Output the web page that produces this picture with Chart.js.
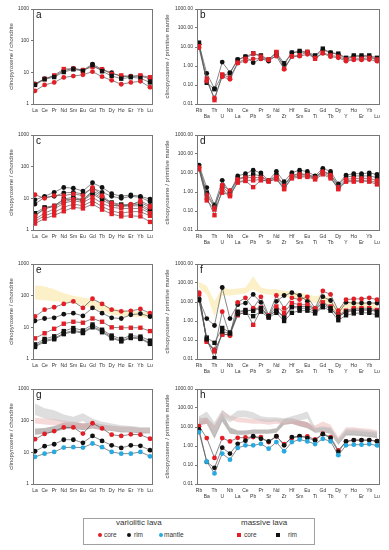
<!DOCTYPE html>
<html>
<head>
<meta charset="utf-8">
<script src="https://cdn.jsdelivr.net/npm/chart.js@4.4.1/dist/chart.umd.min.js"></script>
<style>
  body { margin: 0; background: #fff; width: 389px; height: 550px; position: relative; overflow: hidden; font-family: "Liberation Sans", Arial, sans-serif; }
  canvas { position: absolute; }
  #legend { position: absolute; left: 83px; top: 518px; width: 232px; height: 27px; border: 1px solid #a0a0a0; box-sizing: border-box; color: #333; }
  #legend span { position: absolute; white-space: nowrap; }
  .head { font-size: 8px; line-height: 8px; top: 0px; }
  .item { font-size: 6.5px; line-height: 7px; top: 12px; }
  .mk { width: 4px; height: 4px; top: 14px !important; }
  .dot { border-radius: 50%; }
</style>
</head>
<body>
<canvas id="pa" width="160" height="117" style="left:0;top:1px"></canvas>
<canvas id="pb" width="229" height="123" style="left:160px;top:1px"></canvas>
<canvas id="pc" width="160" height="117" style="left:0;top:127px"></canvas>
<canvas id="pd" width="229" height="123" style="left:160px;top:127px"></canvas>
<canvas id="pe" width="160" height="117" style="left:0;top:256px"></canvas>
<canvas id="pf" width="229" height="123" style="left:160px;top:256px"></canvas>
<canvas id="pg" width="160" height="117" style="left:0;top:381px"></canvas>
<canvas id="ph" width="229" height="123" style="left:160px;top:381px"></canvas>

<div id="legend">
  <span class="head" style="left:32px">variolitic lava</span>
  <span class="mk dot" style="left:14px;background:#e41e26"></span><span class="item" style="left:20px">core</span>
  <span class="mk dot" style="left:43px;background:#111"></span><span class="item" style="left:50px">rim</span>
  <span class="mk dot" style="left:75px;background:#27a9e1"></span><span class="item" style="left:80px">mantle</span>
  <span class="head" style="left:157px">massive lava</span>
  <span class="mk" style="left:153px;background:#e41e26"></span><span class="item" style="left:160px">core</span>
  <span class="mk" style="left:192px;background:#111"></span><span class="item" style="left:204px">rim</span>
</div>

<script>
// element orders
const REE = ["La", "Ce", "Pr", "Nd", "Sm", "Eu", "Gd", "Tb", "Dy", "Ho", "Er", "Yb", "Lu"];
const SPIDER = ["Rb", "Ba", "Th", "U", "Nb", "La", "Ce", "Pb", "Pr", "Sr", "Nd", "Zr", "Hf", "Sm", "Eu", "Ti", "Gd", "Tb", "Dy", "Y", "Ho", "Er", "Yb", "Lu"];
const reeTicks = [1, 10, 100, 1000];
const spiderTicks = [0.01, 0.1, 1, 10, 100, 1000];

// panel a
const aVarCore = [2.6, 4.0, 4.8, 6.9, 7.6, 8.4, 10.5, 7.3, 5.6, 4.2, 4.8, 5.2, 3.4];
const aVarRim = [4.3, 6.3, 7.6, 11.3, 13.3, 11.8, 18, 12.4, 9.8, 7.3, 7.6, 7.6, 6.3];
const aMasCore = [4.2, 6.2, 8.0, 12.7, 13.0, 11.8, 15, 12.4, 8.9, 8.0, 7.3, 8.0, 7.0];
const aMasRim = [4.0, 6.0, 7.1, 10.2, 12.4, 11.0, 17, 10.8, 7.7, 6.3, 7.0, 6.5, 4.8];

// panel b
const bVarCore = [9.2, 0.16, 0.021, 0.27, 0.2, 1.4, 1.8, 2.4, 2.4, 2.2, 3.3, 0.67, 3.1, 3.3, 4.1, 2.7, 4.6, 3.1, 2.7, 1.8, 2.1, 2.1, 2.2, 1.8];
const bVarRim = [14, 0.41, 0.064, 1.6, 0.45, 2.2, 3.1, 1.5, 2.4, 1.8, 3.6, 1.2, 5.0, 5.5, 5.0, 3.1, 6.9, 5.0, 4.1, 2.4, 3.1, 3.1, 3.1, 2.4];
const bMasCore = [11, 0.22, 0.016, 0.36, 0.24, 1.5, 2.4, 4.6, 3.1, 2.1, 5.5, 0.72, 3.3, 3.6, 5.5, 2.4, 5.0, 3.6, 3.1, 2.2, 2.4, 2.4, 2.7, 2.2];
const bMasRim = [17, 0.13, 0.06, 0.32, 0.41, 2.1, 3.1, 4.6, 3.6, 2.2, 5.0, 1.4, 5.0, 6.2, 5.5, 3.6, 8.2, 5.0, 4.5, 2.7, 3.6, 3.6, 3.6, 2.7];

// panel c
const cVarRim1 = [9, 11.6, 15.5, 22, 21, 17, 31, 22, 14, 11.6, 12.8, 11.6, 9.5];
const cVarRim2 = [6.6, 10.8, 11.6, 14.8, 15.5, 13.8, 21, 15.5, 11.6, 10, 11.6, 10.8, 7.8];
const cMasRim1 = [3.4, 5.2, 5.8, 9.5, 10.8, 9, 15.5, 10, 7.4, 6.4, 6.1, 6.6, 4.3];
const cMasRim2 = [2.9, 4.8, 5.5, 7.8, 9.5, 8.4, 13.8, 9, 6.1, 5.5, 5.8, 5.8, 3.8];
const cVarCore1 = [13, 10, 12.2, 12.2, 13.8, 12.2, 22, 12.2, 7, 5.8, 6.6, 7.4, 5.2];
const cVarCore2 = [2.8, 4.6, 5.8, 9, 9.5, 9, 17.5, 11.6, 6.1, 5.8, 6.1, 8.4, 5.8];
const cMasCore1 = [2.2, 3.4, 4.6, 7, 8.4, 7.4, 10.8, 7, 5.2, 4.8, 4.8, 4.8, 3.4];
const cMasCore2 = [1.9, 2.8, 3.6, 5.2, 6.6, 5.8, 8.4, 5.5, 4, 3.4, 3.8, 3.8, 2.8];
const cMasCore3 = [1.6, 2.3, 2.9, 3.9, 5.2, 4.8, 6.6, 4.4, 3.2, 2.7, 2.8, 2.7, 1.8];

// panel d
const dVarRim = [26, 1.7, 0.21, 4.1, 0.92, 7, 9.2, 14, 10, 4.1, 12, 3.5, 10.4, 14, 12, 7, 17.6, 12, 2.7, 7.8, 9.2, 9.2, 10, 8.5];
const dMasRim = [23, 0.92, 0.18, 2.1, 0.75, 5.2, 6.2, 8.5, 7, 3.8, 7.8, 2.3, 7.8, 9.2, 8.5, 6.2, 12.7, 8.5, 2.3, 6.2, 7, 7, 7, 5.7];
const dVarCore = [19, 0.7, 0.15, 2.3, 1.2, 4.6, 5.7, 5.7, 5.7, 4.1, 6.2, 2.1, 7, 8.5, 7.8, 5.7, 11.7, 7.8, 1.8, 4.6, 5.2, 5.2, 5.2, 4.1];
const dMasCore1 = [15.6, 0.5, 0.06, 1.4, 0.6, 3.5, 4.1, 4.1, 4.6, 3.5, 5.2, 1.56, 5.2, 6.2, 6.2, 4.6, 8.5, 5.2, 1.56, 3.8, 4.1, 4.1, 4.1, 3.1];
const dMasCore2 = [17.6, 0.36, 0.12, 0.92, 0.7, 3.1, 3.8, 1.8, 4.1, 3.8, 4.6, 1.4, 6.2, 7, 7, 5.2, 10.4, 6.2, 1.4, 3.5, 3.5, 3.8, 3.5, 2.5];

// panel e
const eBandLo = [76, 72, 67, 62, 59, 48, 41, 32, 25, 23, 22, 21, 19];
const eBandHi = [215, 195, 160, 120, 100, 87, 76, 56, 41, 36, 34, 32, 29];
const eVarCore = [22, 36, 43, 55, 66, 41, 80, 55, 36, 32, 33, 38, 28];
const eVarRim = [16, 19, 20, 26, 28, 23, 41, 28, 20, 19, 25, 27, 22];
const eMasCore = [4.5, 6.5, 9, 13, 15, 14, 19, 15, 10, 9.7, 9.7, 9.7, 7.6];
const eMasRim1 = [2.9, 4.3, 5.2, 7.6, 9.5, 8, 12.3, 8.4, 5.5, 4.3, 5.5, 5.1, 3.8];
const eMasRim2 = [2.6, 3.8, 4.5, 6.5, 8, 7, 10.8, 7.6, 4.9, 3.8, 4.9, 4.6, 3.2];
const eMasRim3 = [2.4, 3.5, 4.2, 6.1, 7.4, 6.6, 10, 7, 4.5, 3.6, 4.6, 4.3, 3.0];

// panel f
const fBandLo = [58, 25, 1.65, 22, 22, 25, 28, 47, 28, 25, 22, 19, 16.5, 13.5, 11, 8.8, 9.6, 7.2, 1.65, 4.7, 4.7, 4.7, 4.7, 4.2];
const fBandHi = [118, 71, 10.8, 58, 47, 51, 58, 230, 58, 47, 47, 38, 38, 31, 25, 20, 25, 16.5, 4.7, 10.8, 10.8, 9.6, 9.6, 8.8];
const fVarRim = [14.6, 1.34, 0.58, 58, 1.34, 7.2, 8.8, 25, 9.6, 1.8, 10.8, 22, 31, 22, 10.8, 3.8, 19, 12, 2.5, 9.6, 8.8, 8.8, 8.8, 8.8];
const fVarCore = [31, 0.088, 0.031, 3.1, 0.166, 9.6, 16.5, 4.7, 18.7, 2.0, 22, 4.7, 16.5, 13.4, 18.7, 4.7, 38, 25, 3.5, 13.4, 14.6, 14.6, 16.5, 13.4];
const fMasCore1 = [25, 0.081, 0.027, 0.2, 0.19, 2.0, 3.1, 4.2, 5.1, 1.8, 5.8, 2.7, 8.8, 7.2, 7.2, 4.2, 9.6, 5.8, 2.0, 3.5, 4.7, 4.7, 4.7, 3.8];
const fMasCore2 = [28, 0.088, 0.025, 0.19, 0.2, 2.7, 3.5, 0.63, 3.8, 1.8, 3.8, 1.65, 5.8, 5.8, 5.8, 3.8, 8.8, 4.7, 1.65, 3.1, 3.8, 3.8, 3.8, 3.5];
const fMasRim1 = [13.4, 0.134, 0.071, 0.43, 0.25, 3.1, 3.8, 3.4, 4.7, 1.8, 3.5, 1.5, 5.3, 4.7, 4.7, 3.1, 6.3, 4.7, 1.65, 3.1, 3.5, 3.8, 3.8, 3.1];
const fMasRim2 = [12.3, 0.109, 0.011, 0.28, 0.22, 2.3, 2.7, 1.8, 3.1, 1.5, 2.7, 1.0, 2.7, 3.5, 3.5, 2.5, 5.3, 3.5, 1.1, 2.0, 2.5, 2.7, 2.7, 2.0];

// panel g
const gGrayLo = [150, 118, 104, 88, 76, 97, 64, 57, 50, 47, 44, 44, 42];
const gGrayHi = [350, 245, 215, 158, 133, 170, 117, 92, 81, 72, 68, 63, 63];
const gPinkLo = [81, 76, 72, 69, 64, 57, 59, 54, 50, 47, 47, 44, 42];
const gPinkHi = [123, 117, 112, 104, 92, 81, 92, 76, 69, 64, 64, 59, 59];
const gDarkLo = [36, 38, 42, 54, 57, 50, 57, 50, 47, 42, 42, 39, 39];
const gDarkHi = [57, 59, 68, 88, 92, 81, 88, 76, 69, 64, 64, 59, 59];
const gVarCore = [26, 38, 47, 61, 61, 39, 83, 57, 36, 33, 37, 36, 27];
const gVarRim = [10.8, 15.6, 18, 25, 25, 20, 33, 23, 16.7, 13.8, 16.7, 16, 11.7];
const gVarMantle = [7.2, 9.1, 10.3, 14.1, 14.5, 14.1, 19, 14.5, 10.3, 9.1, 9.1, 10.3, 7.5];

// panel h
const hGrayLo = [18, 27, 3.6, 29, 18, 33, 33, 27, 19.4, 18, 19.4, 14.7, 19.4, 22, 27, 5.4, 5.8, 4.4, 1.32, 4.4, 4.4, 3.9, 3.6, 3.3];
const hGrayHi = [37, 65, 18, 82, 37, 73, 73, 60, 37, 33, 33, 29, 37, 49, 65, 9.8, 11, 9.8, 2.4, 8, 8, 7.4, 6.6, 5.8];
const hPinkLo = [16.5, 14.7, 5.4, 37, 25, 18, 16.5, 14.7, 14.7, 13, 14.7, 13, 14.7, 12, 9.8, 6.6, 9.8, 6.6, 1.6, 5.4, 5.4, 5, 4.4, 3.9];
const hPinkHi = [33, 27, 12, 73, 40, 33, 29, 27, 27, 25, 27, 25, 27, 22, 18, 12, 19.4, 13, 3, 9.8, 9.8, 8.7, 8, 6.6];
const hDarkLo = [12, 14.7, 2.4, 19.4, 4.4, 3.9, 3.9, 4.4, 4.4, 4.4, 5, 13, 14.7, 11, 8.7, 5, 5.4, 4.4, 1.17, 3.6, 3.6, 3.3, 3, 2.6];
const hDarkHi = [27, 33, 12, 55, 9.8, 6.6, 6.6, 7.4, 7.4, 7.4, 8.7, 27, 29, 22, 18, 8.7, 9.8, 8.7, 2.2, 6.6, 6.6, 5.8, 5.4, 5];
const hVarCore = [11, 2.6, 0.236, 2.6, 1.75, 2.7, 2.8, 2.95, 2.95, 1.6, 3.2, 1.27, 2.6, 3.2, 3.2, 2.2, 4.4, 2.95, 0.59, 1.75, 2.0, 2.0, 2.0, 1.8];
const hVarRim = [7.4, 0.146, 0.071, 0.82, 0.4, 1.3, 1.9, 3.3, 2.4, 1.75, 3.3, 1.08, 2.95, 3.3, 2.6, 2.0, 4.2, 2.6, 0.49, 1.75, 2.06, 2.06, 2.06, 1.8];
const hVarMantle = [5.4, 0.15, 0.036, 0.4, 0.19, 0.79, 1.08, 1.08, 1.3, 0.72, 1.6, 0.53, 1.6, 2.2, 1.75, 1.27, 2.4, 1.75, 0.33, 1.08, 1.17, 1.17, 1.27, 1.08];

Chart.defaults.font.family = "'Liberation Sans', Arial, sans-serif";

const STYLE = {
  vc: { color: "#e41e26", shape: "circle" },
  vr: { color: "#111111", shape: "circle" },
  vm: { color: "#27a9e1", shape: "circle" },
  mc: { color: "#e41e26", shape: "rect" },
  mr: { color: "#111111", shape: "rect" },
};

function lineDs(vals, kind) {
  const s = STYLE[kind];
  return {
    data: vals.map((v, i) => ({ x: i, y: v })),
    borderColor: "#555",
    borderWidth: 0.7,
    pointStyle: s.shape,
    pointRadius: s.shape === "rect" ? 3.1 : 2.4,
    pointBackgroundColor: s.color,
    pointBorderWidth: 0,
    fill: false,
    order: 0,
  };
}

// returns [lower, upper] datasets; the upper fills down to the lower
function bandDs(lo, hi, color, loIndex) {
  const base = { pointRadius: 0, borderWidth: 0, borderColor: "rgba(0,0,0,0)", order: 10 };
  return [
    { ...base, data: lo.map((v, i) => ({ x: i, y: v })), fill: false },
    { ...base, data: hi.map((v, i) => ({ x: i, y: v })), fill: { target: loIndex }, backgroundColor: color },
  ];
}

const boxPlugin = {
  id: "box",
  afterDraw(chart, args, opts) {
    const { ctx, chartArea: a } = chart;
    ctx.save();
    ctx.strokeStyle = "#777";
    ctx.lineWidth = 1;
    ctx.strokeRect(Math.round(a.left) + 0.5, Math.round(a.top) + 0.5, Math.round(a.width), Math.round(a.height));
    ctx.fillStyle = "#111";
    ctx.font = "10px 'Liberation Sans', Arial, sans-serif";
    ctx.fillText(opts.letter, a.left + 3, a.top + 9);
    ctx.restore();
  },
};

function makePanel(id, letter, spider, series, bands) {
  const labels = spider ? SPIDER : REE;
  const ticks = spider ? spiderTicks : reeTicks;
  const datasets = [];
  (bands || []).forEach((b) => {
    datasets.push(...bandDs(b[0], b[1], b[2], datasets.length));
  });
  series.forEach((s) => datasets.push(lineDs(s[0], s[1])));
  const pad = spider ? 0.26 : 0.21;

  new Chart(document.getElementById(id), {
    type: "line",
    data: { datasets },
    options: {
      responsive: false,
      animation: false,
      devicePixelRatio: 1,
      layout: { padding: { top: 8, left: 0, right: spider ? 10 : 8, bottom: 0 } },
      plugins: { legend: { display: false }, tooltip: { enabled: false }, box: { letter } },
      scales: {
        x: {
          type: "linear",
          min: -pad,
          max: labels.length - 1 + pad,
          afterBuildTicks: (scale) => { scale.ticks = labels.map((_, i) => ({ value: i })); },
          afterFit: (scale) => { scale.height = spider ? 20 : 14; },
          grid: { display: false, drawTicks: false, tickLength: 0 },
          border: { display: false },
          ticks: {
            autoSkip: false,
            maxRotation: 0,
            padding: 3,
            color: "#333",
            font: { size: 5, lineHeight: 1.3 },
            callback: (v) => {
              const lbl = labels[v];
              return spider && v % 2 ? ["", lbl] : lbl;
            },
          },
        },
        y: {
          type: "logarithmic",
          min: ticks[0],
          max: ticks[ticks.length - 1],
          afterBuildTicks: (scale) => { scale.ticks = ticks.map((v) => ({ value: v })); },
          afterFit: (scale) => { scale.width = spider ? 37 : 33; },
          grid: { drawOnChartArea: false, tickLength: 2, color: "#777" },
          border: { display: false },
          ticks: {
            autoSkip: false,
            padding: 2,
            color: "#333",
            font: { size: 5 },
            callback: (v) => (spider ? v.toFixed(2) : String(v)),
          },
          title: {
            display: true,
            text: spider ? "clinopyroxene / primitive mantle" : "clinopyroxene / chondrite",
            color: "#444",
            font: { size: 6 },
            padding: { top: spider ? 4 : 8, bottom: 0 },
          },
        },
      },
    },
    plugins: [boxPlugin],
  });
}

const yellow = "rgba(250, 232, 170, 0.65)";
const lightGray = "rgba(200, 200, 200, 0.6)";
const pink = "rgba(236, 170, 170, 0.45)";
const darkGray = "rgba(130, 120, 120, 0.5)";

makePanel("pa", "a", false, [[aVarCore, "vc"], [aMasRim, "mr"], [aMasCore, "mc"], [aVarRim, "vr"]]);
makePanel("pb", "b", true, [[bVarCore, "vc"], [bMasCore, "mc"], [bVarRim, "vr"], [bMasRim, "mr"]]);
makePanel("pc", "c", false, [
  [cMasCore3, "mc"], [cMasCore2, "mc"], [cMasCore1, "mc"], [cVarCore2, "vc"], [cVarCore1, "vc"],
  [cMasRim2, "mr"], [cMasRim1, "mr"], [cVarRim2, "vr"], [cVarRim1, "vr"],
]);
makePanel("pd", "d", true, [
  [dMasCore2, "mc"], [dMasCore1, "mc"], [dVarCore, "vc"], [dMasRim, "mr"], [dVarRim, "vr"],
]);
makePanel("pe", "e", false, [
  [eMasRim3, "mr"], [eMasRim2, "mr"], [eMasRim1, "mr"], [eMasCore, "mc"], [eVarRim, "vr"], [eVarCore, "vc"],
], [[eBandLo, eBandHi, yellow]]);
makePanel("pf", "f", true, [
  [fMasRim2, "mr"], [fMasRim1, "mr"], [fMasCore2, "mc"], [fMasCore1, "mc"], [fVarCore, "vc"], [fVarRim, "vr"],
], [[fBandLo, fBandHi, yellow]]);
makePanel("pg", "g", false, [
  [gVarMantle, "vm"], [gVarRim, "vr"], [gVarCore, "vc"],
], [[gGrayLo, gGrayHi, lightGray], [gPinkLo, gPinkHi, pink], [gDarkLo, gDarkHi, darkGray]]);
makePanel("ph", "h", true, [
  [hVarMantle, "vm"], [hVarRim, "vr"], [hVarCore, "vc"],
], [[hGrayLo, hGrayHi, lightGray], [hPinkLo, hPinkHi, pink], [hDarkLo, hDarkHi, darkGray]]);
</script>
</body>
</html>
